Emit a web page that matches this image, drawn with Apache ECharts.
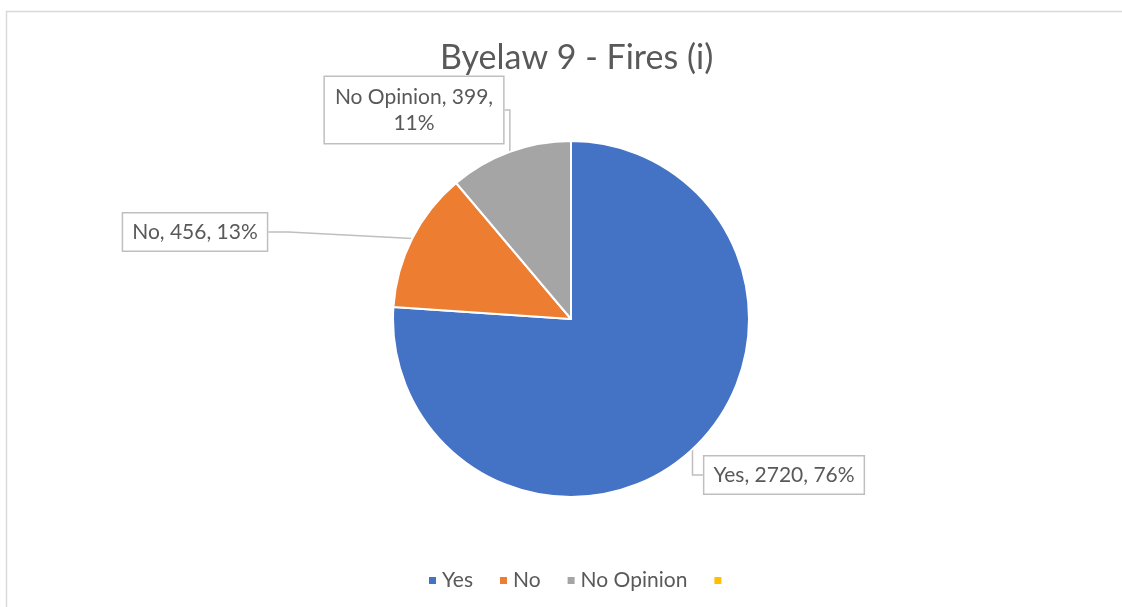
<!DOCTYPE html>
<html>
<head>
<meta charset="utf-8">
<title>Byelaw 9 - Fires (i)</title>
<script src="https://cdn.jsdelivr.net/npm/echarts@6/dist/echarts.min.js"></script>
<style>
  html, body { margin: 0; padding: 0; background: #ffffff; }
  #chart { width: 1122px; height: 607px; }
</style>
</head>
<body>
<div id="chart"></div>
<script>
// Survey responses for Byelaw 9 - Fires (i)
const categories = ['Yes', 'No', 'No Opinion', ' '];
const responses = [2720, 456, 399, 0];
const sliceColors = ['#4472C4', '#ED7D31', '#A5A5A5', '#FFC000'];

// Callout box centres for each slice label
const calloutCentres = [
  [784, 475],
  [195, 232],
  [414, 110]
];

const FONT = 'Lato, "Liberation Sans", sans-serif';
const TEXT = '#595959';

const chart = echarts.init(document.getElementById('chart'), null, { renderer: 'canvas' });

const pieData = categories.map((name, i) => {
  const item = { name: name, value: responses[i], itemStyle: { color: sliceColors[i] } };
  if (responses[i] === 0) {
    item.label = { show: false };
    item.labelLine = { show: false };
  } else if (name === 'No Opinion') {
    item.label = { formatter: '{b}, {c},\n{d}%', padding: [7, 10, 7, 10] };
  }
  return item;
});

chart.setOption({
  backgroundColor: '#ffffff',
  animation: false,
  title: {
    text: 'Byelaw 9 - Fires (i)',
    left: 435,
    top: 36,
    textStyle: { fontFamily: FONT, fontSize: 34, fontWeight: 'normal', color: TEXT }
  },
  legend: {
    bottom: 11,
    left: 422,
    icon: 'rect',
    itemWidth: 9,
    itemHeight: 9,
    itemGap: 25,
    data: categories,
    textStyle: { fontFamily: FONT, fontSize: 21, color: TEXT }
  },
  graphic: [{
    type: 'rect',
    silent: true,
    shape: { x: 6.5, y: 11.5, width: 1300, height: 800 },
    style: { fill: 'none', stroke: '#d9d9d9', lineWidth: 1.5 }
  }],
  series: [{
    type: 'pie',
    center: [571, 319],
    radius: 178,
    startAngle: 90,
    clockwise: true,
    percentPrecision: 0,
    itemStyle: { borderColor: '#ffffff', borderWidth: 2 },
    label: {
      show: true,
      position: 'outside',
      formatter: '{b}, {c}, {d}%',
      fontFamily: FONT,
      fontSize: 21,
      lineHeight: 26,
      color: TEXT,
      align: 'center',
      backgroundColor: '#ffffff',
      borderColor: '#bfbfbf',
      borderWidth: 1.5,
      padding: [6, 9, 5, 9]
    },
    labelLine: {
      show: true,
      length: 20,
      length2: 20,
      lineStyle: { color: '#bfbfbf', width: 1.5 }
    },
    labelLayout: function (params) {
      const c = calloutCentres[params.dataIndex];
      if (!c) return {};
      return { x: c[0], y: c[1], align: 'center', verticalAlign: 'middle' };
    },
    data: pieData
  }]
});
</script>
</body>
</html>
